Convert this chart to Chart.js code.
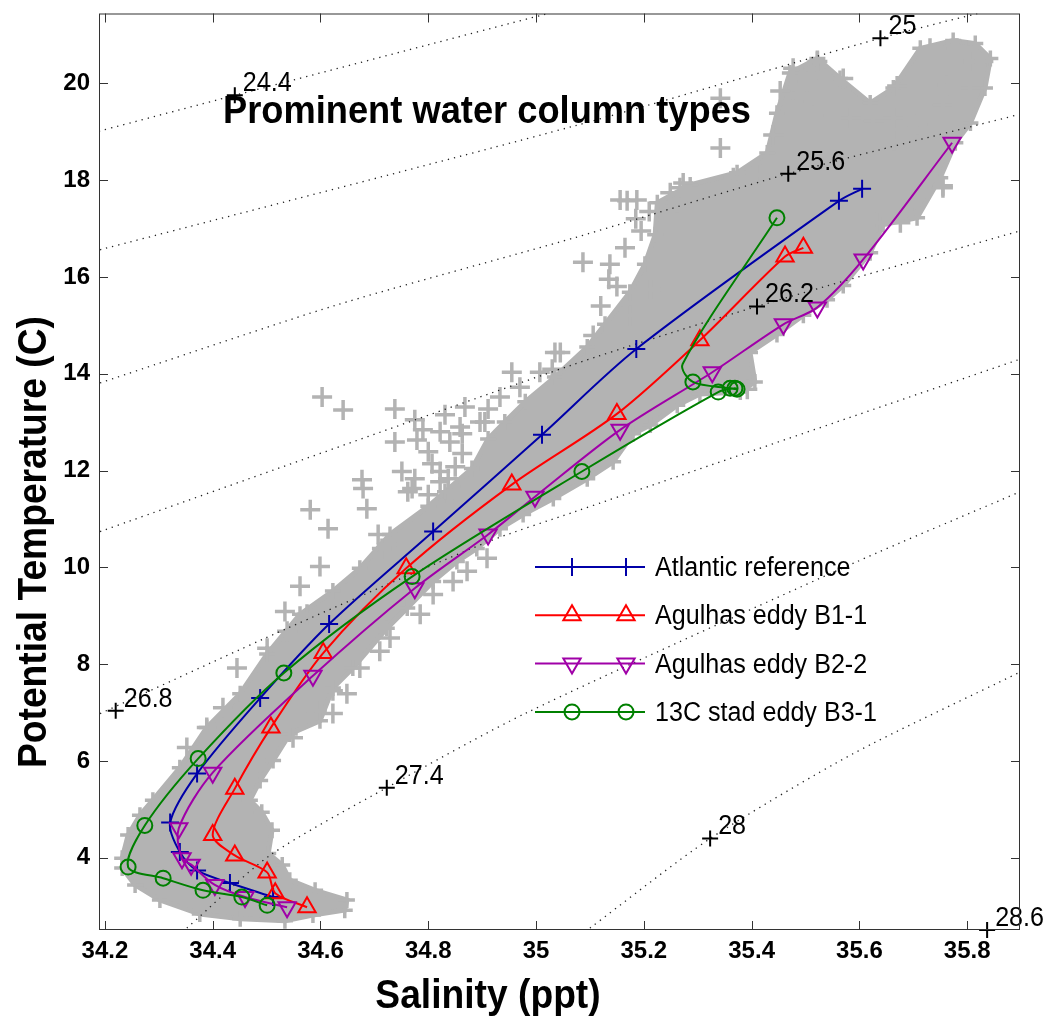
<!DOCTYPE html>
<html><head><meta charset="utf-8">
<script src="https://cdn.jsdelivr.net/npm/chart.js@4.4.1/dist/chart.umd.min.js"></script>
<style>html,body{margin:0;padding:0;background:#fff;}canvas{display:block;}</style>
</head><body>
<canvas id="c" width="1052" height="1019"></canvas>
<script>
// ---------- axes ----------
const xTickValues = [34.2, 34.4, 34.6, 34.8, 35.0, 35.2, 35.4, 35.6, 35.8];
const yTickValues = [4, 6, 8, 10, 12, 14, 16, 18, 20];
const xLimits = [34.189, 35.898];
const yLimits = [2.51, 21.44];

// ---------- profile series ----------
const seriesNames = ['Atlantic reference', 'Agulhas eddy B1-1', 'Agulhas eddy B2-2', '13C stad eddy B3-1'];
const atlanticSal = [35.605, 35.562, 35.186, 35.011, 34.809, 34.616, 34.488, 34.371, 34.321, 34.339, 34.371, 34.432, 34.512];
const atlanticTemp = [17.82, 17.57, 14.51, 12.74, 10.74, 8.83, 7.30, 5.74, 4.73, 4.12, 3.74, 3.48, 3.19];
const b11Sal = [35.496, 35.462, 35.304, 35.150, 34.955, 34.759, 34.605, 34.508, 34.441, 34.400, 34.441, 34.501, 34.516, 34.575];
const b11Temp = [16.60, 16.42, 14.69, 13.17, 11.71, 9.98, 8.23, 6.69, 5.43, 4.47, 4.05, 3.70, 3.27, 2.98];
const b22Sal = [35.772, 35.607, 35.522, 35.459, 35.327, 35.156, 34.998, 34.911, 34.775, 34.586, 34.400, 34.337, 34.343, 34.360, 34.404, 34.460, 34.538];
const b22Temp = [18.77, 16.36, 15.37, 15.02, 14.03, 12.84, 11.46, 10.68, 9.57, 7.76, 5.76, 4.61, 3.99, 3.86, 3.44, 3.19, 2.98];
const b31Sal = [35.447, 35.272, 35.291, 35.360, 35.373, 35.369, 35.338, 35.085, 34.770, 34.532, 34.373, 34.274, 34.243, 34.308, 34.382, 34.454, 34.501];
const b31Temp = [17.22, 14.20, 13.83, 13.70, 13.68, 13.70, 13.62, 11.98, 9.81, 7.82, 6.05, 4.67, 3.81, 3.58, 3.33, 3.19, 3.02];
const b31Marker = [1, 0, 1, 1, 1, 1, 1, 1, 1, 1, 1, 1, 1, 1, 1, 1, 1];

// ---------- all-station cloud (outline of dense core) ----------
const cloudSal = [34.232, 34.243, 34.265, 34.289, 34.339, 34.389, 34.451, 34.501, 34.562, 34.623, 34.673, 34.729, 34.800, 34.831, 34.881, 34.911, 34.942, 34.980, 35.035, 35.095, 35.128, 35.174, 35.202, 35.221, 35.225, 35.286, 35.373, 35.429, 35.447, 35.471, 35.522, 35.564, 35.620, 35.663, 35.713, 35.774, 35.815, 35.843, 35.833, 35.806, 35.778, 35.750, 35.707, 35.644, 35.620, 35.570, 35.540, 35.496, 35.447, 35.397, 35.406, 35.379, 35.304, 35.262, 35.212, 35.180, 35.143, 35.095, 35.032, 34.976, 34.933, 34.890, 34.853, 34.809, 34.761, 34.723, 34.660, 34.623, 34.599, 34.543, 34.512, 34.488, 34.469, 34.491, 34.510, 34.503, 34.529, 34.543, 34.590, 34.649, 34.645, 34.586, 34.534, 34.451, 34.376, 34.302, 34.256, 34.232];
const cloudTemp = [3.99, 4.47, 4.88, 5.19, 5.86, 6.69, 7.39, 8.21, 9.03, 9.51, 9.98, 10.68, 11.26, 11.56, 12.04, 12.65, 13.00, 13.42, 13.93, 14.55, 15.02, 15.68, 16.26, 16.87, 17.53, 17.90, 18.15, 18.56, 19.38, 20.21, 20.51, 20.10, 19.59, 19.90, 20.72, 20.88, 20.82, 20.51, 19.90, 19.18, 18.77, 18.05, 17.22, 17.08, 16.50, 15.82, 15.53, 15.21, 14.81, 14.44, 13.83, 13.62, 13.58, 13.35, 12.94, 12.76, 12.18, 11.83, 11.42, 11.09, 10.80, 10.39, 10.12, 9.71, 9.16, 8.74, 7.92, 7.51, 6.83, 6.56, 6.01, 5.60, 5.19, 4.94, 4.57, 4.09, 3.85, 3.54, 3.33, 3.13, 2.92, 2.82, 2.70, 2.74, 2.84, 3.13, 3.44, 3.79];

// ---------- individual station crosses (outliers / fringe) ----------
const stationSal = [34.603, 34.642, 34.738, 34.775, 34.790, 34.779, 34.800, 34.807, 34.751, 34.775, 34.762, 34.677, 34.686, 34.581, 34.614, 34.831, 34.868, 34.911, 34.955, 35.035, 35.030, 34.863, 34.837, 34.800, 34.707, 34.714,
  34.679, 34.770, 34.723, 34.642, 34.575, 34.538, 34.501, 34.445, 34.419, 34.389, 34.352, 34.673, 34.649, 34.623, 34.549, 34.593, 34.623, 34.710, 34.729, 34.785, 34.809, 34.846, 34.872, 34.909,
  35.087, 35.137, 35.156, 35.187, 35.249, 35.273, 35.262, 35.212, 35.174, 35.106, 35.045, 35.755, 35.681, 35.633, 35.676, 35.392, 35.373,
  35.342, 35.342, 35.267, 35.169, 35.477, 35.522, 35.570, 35.477, 35.514, 35.583, 35.670, 35.731, 35.781, 35.811, 35.830, 35.763, 35.806, 35.755, 35.663, 35.755, 35.626, 35.663, 35.707, 35.366, 35.416, 35.440, 35.453, 35.503,
  34.840, 34.863, 34.822, 34.850, 34.896, 34.933, 34.970, 35.007, 35.120, 35.150, 35.165, 35.195, 35.185, 35.210, 35.135,
  34.822, 34.850, 34.878, 34.738, 34.822, 34.859, 34.905, 34.562, 34.599, 34.534];
const stationTemp = [13.52, 13.25, 13.27, 13.05, 12.84, 12.63, 12.39, 12.14, 11.98, 11.83, 11.56, 11.81, 11.21, 11.19, 10.80, 13.15, 13.31, 13.27, 14.03, 14.44, 14.09, 12.76, 11.83, 11.50, 10.68, 10.39,
  11.63, 11.63, 10.47, 8.89, 9.03, 8.68, 8.33, 7.92, 7.10, 6.69, 6.28, 7.92, 7.39, 6.98, 6.48, 7.04, 7.45, 8.27, 8.54, 9.03, 9.44, 9.71, 9.92, 10.19,
  16.30, 16.26, 17.59, 17.59, 17.74, 17.94, 17.53, 15.74, 15.21, 14.79, 14.44, 17.88, 17.39, 17.12, 17.12, 13.68, 13.77,
  19.69, 18.66, 17.84, 17.57, 20.31, 20.45, 20.10, 19.63, 19.34, 19.28, 19.94, 20.72, 20.72, 20.45, 20.45, 19.96, 19.90, 19.55, 19.28, 17.84, 19.22, 18.81, 19.14, 18.05, 18.11, 18.93, 19.84, 20.04,
  12.59, 12.35, 11.98, 12.08, 13.00, 13.52, 13.72, 14.03, 15.40, 15.80, 16.60, 16.95, 17.20, 17.35, 15.95,
  11.77, 11.36, 11.67, 12.59, 12.80, 12.90, 13.00, 9.61, 10.02, 9.09];

// ---------- sigma-theta isopycnals ----------
const iso244Sal = [34.189, 34.441, 35.022];           const iso244Temp = [19.01, 19.75, 21.44];
const iso250Sal = [34.191, 35.072, 35.639, 35.819];   const iso250Temp = [16.56, 19.12, 20.93, 21.44];
const iso256Sal = [34.191, 34.627, 35.072, 35.468, 35.898]; const iso256Temp = [13.81, 15.41, 16.81, 18.13, 19.36];
const iso262Sal = [34.191, 35.072, 35.410, 35.898];   const iso262Temp = [10.74, 14.20, 15.39, 16.95];
const iso268Sal = [34.191, 34.538, 34.911, 35.072, 35.898]; const iso268Temp = [6.98, 8.74, 10.53, 11.15, 14.30];
const iso274Sal = [34.352, 34.506, 34.723, 34.983, 35.596, 35.898]; const iso274Temp = [2.55, 4.05, 5.45, 7.00, 10.12, 11.56];
const iso280Sal = [35.100, 35.323, 35.588, 35.895];   const iso280Temp = [2.55, 4.40, 6.15, 7.82];
const sigmaLabels = ['24.4', '25', '25.6', '26.2', '26.8', '27.4', '28', '28.6'];
const sigmaLabelSal = [34.441, 35.639, 35.468, 35.410, 34.220, 34.723, 35.323, 35.837];
const sigmaLabelTemp = [19.75, 20.93, 18.13, 15.39, 7.04, 5.45, 4.40, 2.51];

// ---------- build ----------
const FONT = '"Liberation Sans", Arial, Helvetica, sans-serif';
const GRAY = '#b3b3b3';
const COLORS = ['#0000a8', '#ff0000', '#a000a8', '#008000'];
const pts = (s, t) => s.map((v, i) => ({x: v, y: t[i]}));

const isoSets = [[iso244Sal, iso244Temp], [iso250Sal, iso250Temp], [iso256Sal, iso256Temp], [iso262Sal, iso262Temp], [iso268Sal, iso268Temp], [iso274Sal, iso274Temp], [iso280Sal, iso280Temp]];

const datasets = [];
datasets.push({type: 'line', label: 'cloud', data: pts(cloudSal, cloudTemp), fill: 'shape', backgroundColor: GRAY, borderColor: GRAY, borderWidth: 5, pointRadius: 0, tension: 0, order: 30});
datasets.push({type: 'scatter', label: 'cloud edge', data: pts(cloudSal, cloudTemp), pointStyle: 'cross', pointRadius: 8, pointBorderWidth: 3.5, borderColor: GRAY, backgroundColor: GRAY, order: 29});
datasets.push({type: 'scatter', label: 'stations', data: pts(stationSal, stationTemp), pointStyle: 'cross', pointRadius: 10, pointBorderWidth: 3.5, borderColor: GRAY, backgroundColor: GRAY, order: 28});
isoSets.forEach(([s, t]) => datasets.push({type: 'line', label: 'iso', data: pts(s, t), borderColor: '#222', borderWidth: 1.3, borderDash: [1.3, 5], pointRadius: 0, fill: false, tension: 0.25, order: 20}));
const labelIdx = datasets.length;
datasets.push({type: 'scatter', label: 'sigma', data: pts(sigmaLabelSal, sigmaLabelTemp), pointStyle: 'cross', pointRadius: 8, pointBorderWidth: 2, borderColor: '#000', backgroundColor: '#000', clip: false, order: 19});

const seriesDefs = [
  {s: atlanticSal, t: atlanticTemp, style: 'cross', r: 9, rot: 0, order: 4},
  {s: b11Sal, t: b11Temp, style: 'triangle', r: 10, rot: 0, order: 3},
  {s: b22Sal, t: b22Temp, style: 'triangle', r: 10, rot: 180, order: 2},
  {s: b31Sal, t: b31Temp, style: 'circle', r: 7.5, rot: 0, order: 1, mask: b31Marker}
];
seriesDefs.forEach((d, k) => datasets.push({
  type: 'line', label: seriesNames[k], data: pts(d.s, d.t),
  borderColor: COLORS[k], borderWidth: 2, tension: 0.3, fill: false,
  pointStyle: d.style, pointRotation: d.rot,
  pointRadius: d.mask ? d.mask.map(m => m ? d.r : 0) : d.r,
  pointBorderWidth: 2, pointBorderColor: COLORS[k], pointBackgroundColor: 'rgba(0,0,0,0)',
  order: d.order
}));

function drawText(ctx, str, x, y, size, weight, o = {}) {
  ctx.save();
  ctx.translate(x, y);
  if (o.rot) ctx.rotate(o.rot);
  ctx.scale(o.sx || 0.93, 1);
  ctx.font = `${weight} ${size}px ${FONT}`;
  ctx.textAlign = o.align || 'left';
  ctx.textBaseline = o.base || 'alphabetic';
  ctx.fillStyle = '#000';
  ctx.fillText(str, 0, 0);
  ctx.restore();
}
function drawMarker(ctx, style, x, y, r, rot) {
  ctx.beginPath();
  if (style === 'cross') {
    ctx.moveTo(x - r, y); ctx.lineTo(x + r, y); ctx.moveTo(x, y - r); ctx.lineTo(x, y + r);
  } else if (style === 'circle') {
    ctx.arc(x, y, r, 0, Math.PI * 2);
  } else {
    let a = rot * Math.PI / 180;
    for (let i = 0; i < 3; i++) {
      const px = x + Math.sin(a) * r, py = y - Math.cos(a) * r;
      i ? ctx.lineTo(px, py) : ctx.moveTo(px, py);
      a += 2 * Math.PI / 3;
    }
    ctx.closePath();
  }
  ctx.stroke();
}

const decor = {
  id: 'decor',
  afterDatasetsDraw(chart) {
    const {ctx, chartArea: a, scales: {x, y}} = chart;
    ctx.save();
    chart.getDatasetMeta(labelIdx).data.forEach((p, i) => drawText(ctx, sigmaLabels[i], p.x + 8, p.y - 4, 27, 'normal'));
    drawText(ctx, 'Prominent water column types', 223, 123, 39, 'bold');
    const ly0 = 567, ldy = 48.3;
    seriesDefs.forEach((d, k) => {
      const yy = ly0 + k * ldy;
      ctx.strokeStyle = COLORS[k]; ctx.lineWidth = 2;
      ctx.beginPath(); ctx.moveTo(535, yy); ctx.lineTo(645, yy); ctx.stroke();
      drawMarker(ctx, d.style, 572, yy, d.r, d.rot);
      drawMarker(ctx, d.style, 626, yy, d.r, d.rot);
      drawText(ctx, seriesNames[k], 655, yy + 9, 27, 'normal');
    });
    ctx.strokeStyle = '#333'; ctx.lineWidth = 1;
    ctx.strokeRect(a.left + 0.5, a.top + 0.5, a.right - a.left - 1, a.bottom - a.top - 1);
    ctx.beginPath();
    xTickValues.forEach(v => {
      const px = Math.round(x.getPixelForValue(v)) + 0.5;
      ctx.moveTo(px, a.bottom); ctx.lineTo(px, a.bottom - 9);
      ctx.moveTo(px, a.top); ctx.lineTo(px, a.top + 9);
    });
    yTickValues.forEach(v => {
      const py = Math.round(y.getPixelForValue(v)) + 0.5;
      ctx.moveTo(a.left, py); ctx.lineTo(a.left + 9, py);
      ctx.moveTo(a.right, py); ctx.lineTo(a.right - 9, py);
    });
    ctx.stroke();
    drawText(ctx, 'Salinity (ppt)', 488, 1008, 40, 'bold', {align: 'center'});
    drawText(ctx, 'Potential Temperature (C)', 46, 542, 40, 'bold', {align: 'center', rot: -Math.PI / 2});
    ctx.restore();
  }
};

const noPad = s => { s.paddingTop = 0; s.paddingBottom = 0; s.paddingLeft = 0; s.paddingRight = 0; };

new Chart(document.getElementById('c'), {
  type: 'scatter',
  data: {datasets},
  options: {
    responsive: false, animation: false, devicePixelRatio: 1,
    layout: {padding: {top: 10, right: 32, left: 0, bottom: 0}},
    plugins: {legend: {display: false}, tooltip: {enabled: false}, title: {display: false}},
    scales: {
      x: {
        type: 'linear', min: xLimits[0], max: xLimits[1],
        afterFit: s => { s.height = 89; noPad(s); },
        afterBuildTicks: s => { s.ticks = xTickValues.map(v => ({value: v})); },
        ticks: {color: '#000', padding: 7, font: {family: FONT, size: 24, weight: 'bold'}, callback: v => String(+(+v).toFixed(1)), maxRotation: 0, autoSkip: false},
        grid: {display: false, drawTicks: false}, border: {display: false}
      },
      y: {
        type: 'linear', min: yLimits[0], max: yLimits[1],
        afterFit: s => { s.width = 99; noPad(s); },
        afterBuildTicks: s => { s.ticks = yTickValues.map(v => ({value: v})); },
        ticks: {color: '#000', padding: 9, font: {family: FONT, size: 24, weight: 'bold'}, callback: v => String(v), autoSkip: false},
        grid: {display: false, drawTicks: false}, border: {display: false}
      }
    }
  },
  plugins: [decor]
});
</script>
</body></html>
